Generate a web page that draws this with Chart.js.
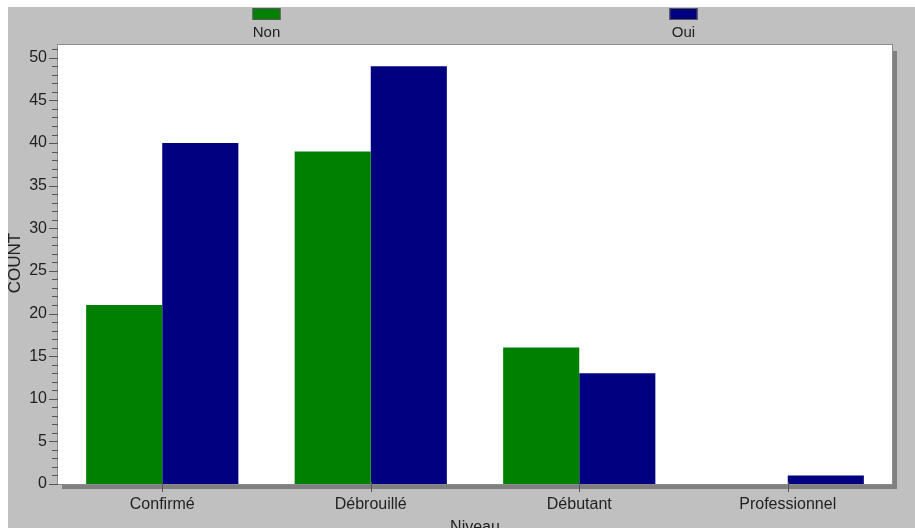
<!DOCTYPE html>
<html>
<head>
<meta charset="utf-8">
<script src="https://cdn.jsdelivr.net/npm/chart.js@4"></script>
<style>
  html, body { margin: 0; padding: 0; background: #ffffff; }
  #wrap { width: 915px; height: 528px; position: relative; }
</style>
</head>
<body>
<div id="wrap"><canvas id="graph_bar" width="915" height="528"></canvas></div>
<script>
// donnees
var niveaux = ["Confirmé", "Débrouillé", "Débutant", "Professionnel"]
var series = ["Non", "Oui"]
var non_count = [21, 39, 16, 0]
var oui_count = [40, 49, 13, 1]
var y_labels = [0, 5, 10, 15, 20, 25, 30, 35, 40, 45, 50]
var couleurs = ["#008000", "#000080"]
var y_max = 51.5

var police = "Liberation Sans, Arial, sans-serif"

// fond gris, bordure et ombre du cadre
var fondPlugin = {
    id: "fond",
    beforeDraw: function(chart){
        var ctx = chart.ctx
        var a = chart.chartArea
        ctx.save()
        ctx.fillStyle = "#ffffff"
        ctx.fillRect(0, 0, chart.width, chart.height)
        ctx.fillStyle = "#c0c0c0"
        ctx.fillRect(8, 7, chart.width - 8, chart.height - 7)
        // ombre
        ctx.fillStyle = "#808080"
        ctx.fillRect(a.right, a.top + 6, 5, a.bottom - a.top - 1)
        ctx.fillRect(a.left + 4, a.bottom, a.right - a.left + 1, 5)
        // zone blanche
        ctx.fillStyle = "#ffffff"
        ctx.fillRect(a.left, a.top, a.right - a.left, a.bottom - a.top)
        ctx.restore()
    },
    afterDatasetsDraw: function(chart){
        var ctx = chart.ctx
        var a = chart.chartArea
        var y = chart.scales.y
        var x = chart.scales.x
        ctx.save()
        ctx.strokeStyle = "#8c8c8c"
        ctx.lineWidth = 1
        ctx.strokeRect(a.left - 0.5, a.top - 0.5, a.right - a.left + 1, a.bottom - a.top + 1)
        // graduations y
        ctx.strokeStyle = "#555555"
        for (var v = 0; v <= Math.floor(y_max); v++){
            var py = Math.round(y.getPixelForValue(v)) + 0.5
            var len = (v % 5 === 0) ? 9 : 6
            ctx.beginPath()
            ctx.moveTo(a.left - len, py)
            ctx.lineTo(a.left, py)
            ctx.stroke()
        }
        // graduations x
        for (var i = 0; i < niveaux.length; i++){
            var px = Math.round(x.getPixelForValue(i)) + 0.5
            ctx.beginPath()
            ctx.moveTo(px, a.bottom - 2)
            ctx.lineTo(px, a.bottom + 8)
            ctx.stroke()
        }
        // legende
        ctx.font = "15px " + police
        ctx.textAlign = "center"
        ctx.textBaseline = "middle"
        var w = a.right - a.left
        for (var k = 0; k < series.length; k++){
            var cx = a.left + w * (0.25 + 0.5 * k)
            ctx.fillStyle = couleurs[k]
            ctx.fillRect(cx - 14, 8, 28, 12)
            ctx.strokeStyle = "#555555"
            ctx.strokeRect(cx - 14 + 0.5, 8.5, 27, 11)
            ctx.fillStyle = "#222222"
            ctx.fillText(series[k], cx, 33)
        }
        // titres des axes
        ctx.font = "16px " + police
        ctx.fillText("Niveau", (a.left + a.right) / 2, 528)
        ctx.font = "17px " + police
        ctx.translate(15, 263)
        ctx.rotate(-Math.PI / 2)
        ctx.fillText("COUNT", 0, 0)
        ctx.restore()
    }
}

function crearGrafico(){
    var g = document.getElementById("graph_bar").getContext("2d")
    new Chart(g, {
        type: "bar",
        data: {
            labels: niveaux,
            datasets: [
                { label: series[0], data: non_count, backgroundColor: couleurs[0], borderWidth: 0 },
                { label: series[1], data: oui_count, backgroundColor: couleurs[1], borderWidth: 0 }
            ]
        },
        options: {
            responsive: false,
            maintainAspectRatio: false,
            animation: false,
            layout: { padding: { left: 8, top: 45, right: 23, bottom: 0 } },
            plugins: {
                legend: { display: false },
                tooltip: { enabled: false }
            },
            datasets: {
                bar: { categoryPercentage: 0.73, barPercentage: 1.0 }
            },
            scales: {
                x: {
                    grid: { display: false },
                    border: { display: false },
                    ticks: { color: "#222222", padding: 3, font: { family: police, size: 16 } },
                    afterFit: function(s){ s.height = 44 }
                },
                y: {
                    min: 0,
                    max: y_max,
                    grid: { display: false },
                    border: { display: false },
                    afterBuildTicks: function(s){
                        s.ticks = y_labels.map(function(v){ return { value: v } })
                    },
                    ticks: {
                        padding: 3,
                        color: "#222222",
                        font: { family: police, size: 16 }
                    },
                    afterFit: function(s){ s.width = 50 }
                }
            }
        },
        plugins: [fondPlugin]
    })
}
document.addEventListener("DOMContentLoaded", crearGrafico)
</script>
</body>
</html>
